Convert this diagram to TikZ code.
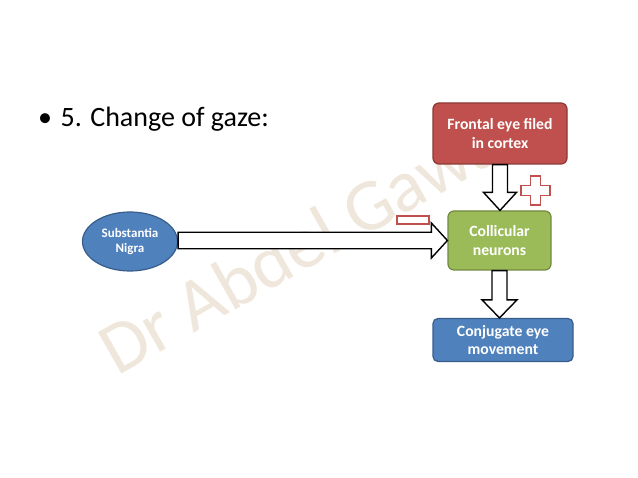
\documentclass[tikz,border=0pt]{standalone}
\usepackage{fontspec}
\setmainfont{Carlito}
\usetikzlibrary{calc,shapes.geometric}
\definecolor{redfill}{HTML}{C0504D}
\definecolor{redline}{HTML}{8C3836}
\definecolor{greenfill}{HTML}{9BBB59}
\definecolor{greenline}{HTML}{71893F}
\definecolor{bluefill}{HTML}{4F81BD}
\definecolor{blueline}{HTML}{385D8A}
\definecolor{wmark}{HTML}{EFE7DB}
\tikzset{
  boxnode/.style={rectangle, rounded corners=6pt, line width=1.2pt, text=white,
    font=\fontsize{15.7}{18.3}\selectfont\bfseries, align=center, inner sep=0pt},
  blockarrow/.style={draw=black, fill=white, line width=1.4pt, line join=miter},
  signshape/.style={draw=redfill, fill=white, line width=1.1pt},
}
\begin{document}
\begin{tikzpicture}[x=1pt,y=-1pt]
\useasboundingbox[fill=white] (0,0) rectangle (638,478);
% watermark
\begin{scope}
\clip (0,104) rectangle (638,478);
\node[anchor=base west, rotate=29.5, text=wmark, font=\fontsize{74}{78}\selectfont, inner sep=0pt] (wm) at (117,377) {Dr Abdel Gawad};
\end{scope}
% title
\node[anchor=base west, inner sep=0pt, font=\fontsize{28}{32}\selectfont] (title) at (38,127) {•\hspace{8.5pt}5. Change of gaze:};
% boxes
\node[boxnode, fill=redfill, draw=redline, minimum width=134pt, minimum height=61pt] (fef) at (500,133.5) {Frontal eye filed\\in cortex};
\node[boxnode, fill=greenfill, draw=greenline, minimum width=103pt, minimum height=59pt] (col) at (499.5,240.5) {Collicular\\neurons};
\node[boxnode, fill=bluefill, draw=blueline, minimum width=140pt, minimum height=43pt, rounded corners=5pt] (cem) at (503,340) {Conjugate eye\\movement};
\node[ellipse, fill=bluefill, draw=blueline, line width=1.2pt, minimum width=95pt, minimum height=59pt, inner sep=0pt, text=white, align=center, font=\fontsize{13}{14.5}\selectfont\bfseries] (sn) at (130,241.5) {Substantia\\Nigra};
% block arrows
\draw[blockarrow] let \p1=(fef.south), \p2=(col.north) in
  (\x1-7.5pt,\y1) -- (\x1-7.5pt,\y2+18pt) -- (\x1-16.5pt,\y2+18pt) -- (\x1,\y2)
  -- (\x1+16.5pt,\y2+18pt) -- (\x1+7.5pt,\y2+18pt) -- (\x1+7.5pt,\y1) -- cycle;
\draw[blockarrow] let \p1=(col.south), \p2=(cem.north) in
  (\x1-7.5pt,\y1) -- (\x1-7.5pt,\y2+18pt) -- (\x1-17.5pt,\y2+18pt) -- (\x1,\y2)
  -- (\x1+17.5pt,\y2+18pt) -- (\x1+7.5pt,\y2+18pt) -- (\x1+7.5pt,\y1) -- cycle;
\draw[blockarrow] let \p1=(sn.east), \p2=(col.west) in
  (\x1,\y2+8.25pt) -- (\x2-16pt,\y2+8.25pt) -- (\x2-16pt,\y2+17.5pt) -- (\x2,\y2)
  -- (\x2-16pt,\y2-17.5pt) -- (\x2-16pt,\y2-8.25pt) -- (\x1,\y2-8.25pt) -- cycle;
% plus sign
\draw[signshape] (530.5,176) -- (540.5,176) -- (540.5,185.5) -- (550,185.5) -- (550,195.5)
  -- (540.5,195.5) -- (540.5,205) -- (530.5,205) -- (530.5,195.5) -- (521,195.5)
  -- (521,185.5) -- (530.5,185.5) -- cycle;
% minus sign
\draw[signshape] (397,216) rectangle (429,224);
\end{tikzpicture}
\end{document}
